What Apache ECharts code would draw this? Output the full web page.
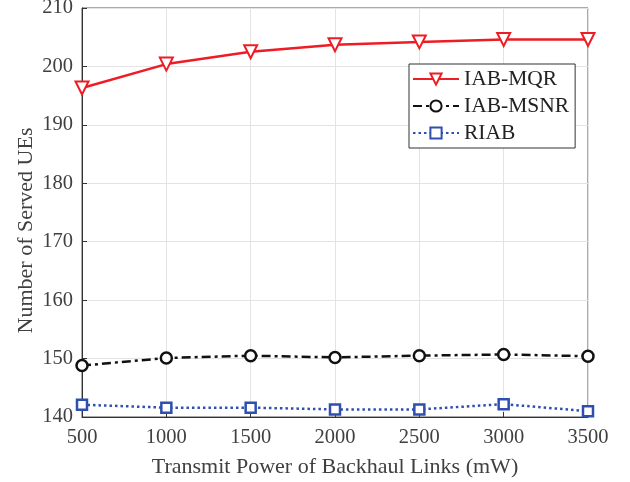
<!DOCTYPE html>
<html><head><meta charset="utf-8">
<script src="https://cdn.jsdelivr.net/npm/echarts@6/dist/echarts.min.js"></script>
<style>html,body{margin:0;padding:0;background:#fff}#c{width:630px;height:482px}</style>
</head><body><div id="c"></div>
<script>
const categories = [500, 1000, 1500, 2000, 2500, 3000, 3500];
const mqr = [196.3, 200.4, 202.5, 203.7, 204.2, 204.6, 204.6];
const msnr = [148.8, 150.1, 150.5, 150.2, 150.5, 150.7, 150.4];
const riab = [142.1, 141.6, 141.6, 141.3, 141.3, 142.2, 141.0];
const yTicks = [140, 150, 160, 170, 180, 190, 200, 210];

const font = 'Liberation Serif, Times New Roman, serif';
const txt = '#404040';
const chart = echarts.init(document.getElementById('c'));
const pair = a => a.map((v, i) => [categories[i], v]);
chart.setOption({
  animation: false,
  backgroundColor: '#fff',
  textStyle: {fontFamily: font},
  grid: {left: 82, right: 42, top: 8, bottom: 65, show: true, borderColor: '#555', borderWidth: 1,
         outerBoundsMode: 'none', containLabel: false},
  legend: {
    left: 409, top: 64, orient: 'vertical',
    backgroundColor: '#fff', borderColor: '#333', borderWidth: 1,
    padding: [4, 6, 4, 3], itemGap: 5, itemWidth: 46, itemHeight: 14,
    textStyle: {fontFamily: font, fontSize: 21.5, color: '#222'},
    data: ['IAB-MQR', 'IAB-MSNR', 'RIAB']
  },
  xAxis: {
    type: 'value', min: 500, max: 3500, interval: 500,
    name: 'Transmit Power of Backhaul Links (mW)', nameLocation: 'middle', nameGap: 39,
    nameMoveOverlap: false,
    nameTextStyle: {fontFamily: font, fontSize: 22, color: txt},
    axisLine: {lineStyle: {color: '#333'}},
    axisTick: {inside: true, length: 5, lineStyle: {color: '#333'}},
    axisLabel: {fontFamily: font, fontSize: 20.5, color: txt, margin: 10, formatter: v => String(v)},
    splitLine: {show: true, lineStyle: {color: '#e3e3e3'}}
  },
  yAxis: {
    type: 'value', min: yTicks[0], max: yTicks[yTicks.length - 1], interval: 10,
    name: 'Number of Served UEs', nameLocation: 'middle', nameGap: 45,
    nameMoveOverlap: false,
    nameTextStyle: {fontFamily: font, fontSize: 22, color: txt, padding: [0, 36, 0, 0]},
    axisLine: {show: true, lineStyle: {color: '#333'}},
    axisTick: {show: true, inside: true, length: 5, lineStyle: {color: '#333'}},
    axisLabel: {fontFamily: font, fontSize: 20.5, color: txt, margin: 9, formatter: v => String(v)},
    splitLine: {show: true, lineStyle: {color: '#e3e3e3'}}
  },
  series: [
    {name: 'IAB-MQR', type: 'line', data: pair(mqr), color: '#ee1c25',
     symbol: 'triangle', symbolRotate: 180, symbolSize: 13, showAllSymbol: true,
     itemStyle: {color: '#fff', borderColor: '#ee1c25', borderWidth: 2},
     lineStyle: {color: '#ee1c25', width: 2.5}},
    {name: 'IAB-MSNR', type: 'line', data: pair(msnr), color: '#111',
     symbol: 'circle', symbolSize: 11,
     itemStyle: {color: '#fff', borderColor: '#111', borderWidth: 2.5},
     lineStyle: {color: '#111', width: 2.5, type: [9, 4, 3, 4]}},
    {name: 'RIAB', type: 'line', data: pair(riab), color: '#2f4fb0',
     symbol: 'rect', symbolSize: 10,
     itemStyle: {color: '#fff', borderColor: '#2f4fb0', borderWidth: 2.5},
     lineStyle: {color: '#2f4fb0', width: 2.5, type: [2.5, 3]}}
  ]
});
</script></body></html>
